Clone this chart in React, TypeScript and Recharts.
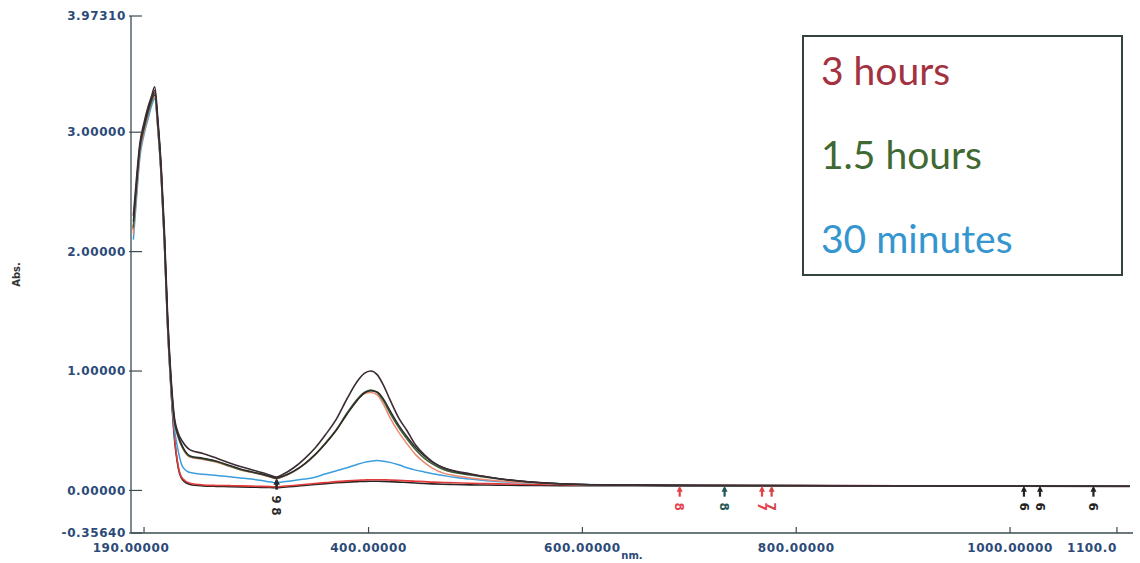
import { LineChart, Line, XAxis, YAxis, ReferenceDot } from 'recharts';

// wavelength grid (nm) and absorbance scans
const wavelengths = [
  180, 183, 186, 190, 194, 197, 200, 203, 206, 209, 212, 215, 218, 222, 226, 233, 245, 258, 270, 280,
  290, 300, 308, 314, 320, 330, 340, 350, 360, 370, 380, 390, 396, 402, 408, 414, 420, 428, 436, 444,
  452, 460, 470, 480, 495, 510, 530, 560, 600, 650, 700, 800, 900, 1000, 1112,
];

const scanA = [
  2.3, 2.62, 2.9, 3.08, 3.22, 3.3, 3.38, 3.1, 2.72, 2.18, 1.48, 0.98, 0.64, 0.48, 0.41, 0.34, 0.31, 0.27, 0.23, 0.2,
  0.175, 0.15, 0.128, 0.112, 0.135, 0.19, 0.265, 0.355, 0.47, 0.6, 0.77, 0.92, 0.98, 1.0, 0.97, 0.88, 0.76, 0.61, 0.5, 0.38,
  0.3, 0.24, 0.19, 0.165, 0.14, 0.115, 0.09, 0.065, 0.05, 0.045, 0.043, 0.04, 0.038, 0.037, 0.035,
];
const scanB = [
  2.2, 2.55, 2.85, 3.03, 3.17, 3.26, 3.32, 3.06, 2.68, 2.12, 1.42, 0.94, 0.61, 0.45, 0.36, 0.285, 0.265, 0.24, 0.205, 0.175,
  0.155, 0.135, 0.115, 0.1, 0.118, 0.16, 0.22, 0.3, 0.4, 0.51, 0.65, 0.77, 0.82, 0.84, 0.82, 0.75, 0.65, 0.53, 0.43, 0.34,
  0.27, 0.22, 0.175, 0.15, 0.13, 0.11, 0.088, 0.065, 0.05, 0.045, 0.042, 0.04, 0.038, 0.037, 0.035,
];
const scanC = [
  2.25, 2.58, 2.88, 3.05, 3.2, 3.28, 3.35, 3.08, 2.7, 2.15, 1.45, 0.96, 0.62, 0.46, 0.37, 0.29, 0.27, 0.245, 0.21, 0.18,
  0.158, 0.138, 0.118, 0.104, 0.12, 0.162, 0.222, 0.3, 0.395, 0.505, 0.64, 0.76, 0.815, 0.835, 0.825, 0.765, 0.67, 0.55, 0.45, 0.36,
  0.29, 0.235, 0.19, 0.16, 0.135, 0.115, 0.09, 0.066, 0.05, 0.045, 0.042, 0.04, 0.038, 0.037, 0.035,
];
const scanD = [
  2.15, 2.5, 2.82, 3.0, 3.15, 3.25, 3.3, 3.04, 2.66, 2.1, 1.4, 0.93, 0.6, 0.44, 0.355, 0.28, 0.26, 0.236, 0.2, 0.172,
  0.152, 0.132, 0.112, 0.098, 0.115, 0.158, 0.218, 0.298, 0.398, 0.51, 0.645, 0.765, 0.81, 0.82, 0.8, 0.72, 0.61, 0.49, 0.39, 0.3,
  0.235, 0.185, 0.145, 0.125, 0.105, 0.09, 0.075, 0.06, 0.048, 0.044, 0.042, 0.04, 0.038, 0.037, 0.035,
];
const scanE = [
  2.1, 2.45, 2.78, 2.98, 3.12, 3.22, 3.28, 3.02, 2.64, 2.08, 1.38, 0.9, 0.55, 0.33, 0.2, 0.15, 0.135, 0.125, 0.115, 0.105,
  0.095, 0.083, 0.072, 0.065, 0.072, 0.083, 0.095, 0.11, 0.14, 0.165, 0.19, 0.22, 0.235, 0.245, 0.25, 0.245, 0.235, 0.215, 0.19, 0.17,
  0.155, 0.14, 0.125, 0.11, 0.095, 0.082, 0.07, 0.06, 0.05, 0.045, 0.042, 0.04, 0.038, 0.037, 0.035,
];
const scanF = [
  2.2, 2.55, 2.86, 3.04, 3.18, 3.27, 3.33, 3.05, 2.66, 2.1, 1.4, 0.9, 0.5, 0.2, 0.1, 0.06, 0.046, 0.042, 0.04, 0.038,
  0.036, 0.034, 0.032, 0.03, 0.035, 0.042, 0.05, 0.058, 0.066, 0.074, 0.08, 0.085, 0.088, 0.09, 0.09, 0.089, 0.087, 0.084, 0.08, 0.077,
  0.074, 0.07, 0.067, 0.064, 0.06, 0.057, 0.054, 0.05, 0.047, 0.045, 0.043, 0.04, 0.038, 0.037, 0.035,
];
const scanG = [
  2.18, 2.52, 2.84, 3.02, 3.16, 3.25, 3.31, 3.03, 2.64, 2.08, 1.38, 0.88, 0.48, 0.19, 0.09, 0.05, 0.038, 0.034, 0.032, 0.03,
  0.028, 0.026, 0.024, 0.022, 0.027, 0.034, 0.042, 0.05, 0.057, 0.064, 0.07, 0.074, 0.076, 0.077, 0.077, 0.076, 0.074, 0.07, 0.066, 0.062,
  0.058, 0.055, 0.052, 0.05, 0.047, 0.045, 0.043, 0.041, 0.04, 0.039, 0.038, 0.037, 0.036, 0.035, 0.034,
];

const xTicks = [190, 400, 600, 800, 1000, 1100];
// the last label is printed cut short at the page edge
const xTickLabels = ['190.00000', '400.00000', '600.00000', '800.00000', '1000.00000', '1100.0'];
const yTicks = [-0.3564, 0, 1, 2, 3, 3.9731];
const rightTicks = [2, 3];
const topTicks = [190];

const legendLabels = ['3 hours', '1.5 hours', '30 minutes'];
const legendColors = ['#a3313f', '#3f6833', '#3596cf'];

// peak-pick markers printed by the instrument
const peakNm = [691, 733, 768, 777, 1013, 1028, 1078];
const peakLabels = ['8', '8', '7', '7', '6', '6', '6'];
const peakColors = ['#e8404a', '#1f5656', '#e8404a', '#d04444', '#222', '#222', '#222'];
const dipNm = [314, 314];
const dipLabels = ['9', '8'];

const data = wavelengths.map((nm, i) => ({
  nm,
  a: scanA[i],
  b: scanB[i],
  c: scanC[i],
  d: scanD[i],
  e: scanE[i],
  f: scanF[i],
  g: scanG[i],
}));

const axisColor = '#3d4b52';
const labelColor = '#2c4a78';
const tickFont = { fontFamily: 'DejaVu Sans', fontWeight: 700, fontSize: 12, letterSpacing: 0.6 };

const XTick = (props: any) => {
  const { x, y, index } = props;
  const last = index === xTicks.length - 1;
  const tx = index === 0 ? x - 13 : last ? x - 50 : x;
  return (
    <g>
      <line x1={x} x2={x} y1={y} y2={y - 6} stroke={axisColor} strokeWidth={1.2} />
      <text x={tx} y={y + 15} dy="0.35em" textAnchor={last ? 'start' : 'middle'} fill={labelColor} {...tickFont}>
        {xTickLabels[index]}
      </text>
    </g>
  );
};

const YTick = (props: any) => {
  const { x, y, payload } = props;
  return (
    <g>
      <line x1={x - 2} x2={x + 11} y1={y} y2={y} stroke={axisColor} strokeWidth={1.2} />
      <text x={x - 5} y={y} dy="0.35em" textAnchor="end" fill={labelColor} {...tickFont}>
        {payload.value.toFixed(5)}
      </text>
    </g>
  );
};

const TopTick = (props: any) => (
  <line x1={props.x} x2={props.x} y1={props.y} y2={props.y + 6} stroke={axisColor} strokeWidth={1.2} />
);

const RightTick = (props: any) => (
  <line x1={props.x} x2={props.x - 9} y1={props.y} y2={props.y} stroke={axisColor} strokeWidth={1.2} />
);

const PeakArrow = (props: any) => {
  const { cx, cy, color, label, row } = props;
  const ly = cy + 21 + row * 12;
  return (
    <g>
      <line x1={cx} x2={cx} y1={cy + 3} y2={cy + 11} stroke={color} strokeWidth={2.2} />
      <path d={`M${cx - 3},${cy + 6} L${cx},${cy} L${cx + 3},${cy + 6} Z`} fill={color} />
      <text
        transform={`translate(${cx},${ly}) rotate(90)`}
        textAnchor="middle"
        dy="0.35em"
        fill={color}
        fontFamily="DejaVu Sans"
        fontWeight={700}
        fontSize={12}
      >
        {label}
      </text>
    </g>
  );
};

export default function App() {
  return (
    <div style={{ position: 'absolute', left: 0, top: 0, width: 1140, height: 563, background: '#fff' }}>
      <LineChart width={1140} height={563} data={data} margin={{ top: 16, right: 7, bottom: 0, left: 0 }}>
        <XAxis
          dataKey="nm"
          type="number"
          domain={[177.8, 1115]}
          ticks={xTicks}
          tick={XTick}
          tickLine={false}
          tickSize={0}
          tickMargin={0}
          height={30}
          stroke={axisColor}
          strokeWidth={1.3}
          interval={0}
          allowDataOverflow
          label={(p: any) => (
            <text
              x={p.viewBox.x + p.viewBox.width / 2}
              y={p.viewBox.y + 26}
              textAnchor="middle"
              fill={labelColor}
              fontFamily="DejaVu Sans"
              fontWeight={700}
              fontSize={10}
            >
              nm.
            </text>
          )}
        />
        <XAxis
          xAxisId="top"
          orientation="top"
          dataKey="nm"
          type="number"
          domain={[177.8, 1115]}
          ticks={topTicks}
          tick={TopTick}
          tickLine={false}
          tickSize={0}
          tickMargin={0}
          height={0}
          stroke={axisColor}
          strokeWidth={1.3}
          allowDataOverflow
        />
        <YAxis
          type="number"
          domain={[-0.3564, 3.9731]}
          ticks={yTicks}
          tick={YTick}
          tickLine={false}
          tickSize={0}
          tickMargin={0}
          width={131}
          stroke={axisColor}
          strokeWidth={1.3}
          interval={0}
          allowDataOverflow
          label={(p: any) => (
            <text
              transform={`translate(20,${p.viewBox.y + p.viewBox.height / 2}) rotate(-90)`}
              textAnchor="middle"
              fill="#333"
              fontFamily="DejaVu Sans"
              fontWeight={700}
              fontSize={10}
            >
              Abs.
            </text>
          )}
        />
        <YAxis
          yAxisId="right"
          orientation="right"
          type="number"
          domain={[-0.3564, 3.9731]}
          ticks={rightTicks}
          tick={RightTick}
          tickLine={false}
          tickSize={0}
          tickMargin={0}
          width={0}
          stroke={axisColor}
          strokeWidth={1.3}
          allowDataOverflow
        />
        <Line dataKey="g" type="monotone" stroke="#262626" strokeWidth={1.6} dot={false} isAnimationActive={false} />
        <Line dataKey="f" type="monotone" stroke="#e23a3a" strokeWidth={1.6} dot={false} isAnimationActive={false} />
        <Line dataKey="e" type="monotone" stroke="#3b9ede" strokeWidth={1.5} dot={false} isAnimationActive={false} />
        <Line dataKey="d" type="monotone" stroke="#ec8a70" strokeWidth={1.5} dot={false} isAnimationActive={false} />
        <Line dataKey="b" type="monotone" stroke="#3d5e36" strokeWidth={1.6} dot={false} isAnimationActive={false} />
        <Line dataKey="c" type="monotone" stroke="#2b2b2b" strokeWidth={1.4} dot={false} isAnimationActive={false} />
        <Line dataKey="a" type="monotone" stroke="#3c2c34" strokeWidth={1.6} dot={false} isAnimationActive={false} />
        {peakNm.map((nm, i) => (
          <ReferenceDot
            key={`p${i}`}
            x={nm}
            y={0.04}
            shape={(p: any) => <PeakArrow {...p} color={peakColors[i]} label={peakLabels[i]} row={0} />}
          />
        ))}
        {dipNm.map((nm, i) => (
          <ReferenceDot
            key={`d${i}`}
            x={nm}
            y={0.1}
            shape={(p: any) => <PeakArrow {...p} color="#2a2a2a" label={dipLabels[i]} row={i} />}
          />
        ))}
      </LineChart>
      <svg width={321} height={241} style={{ position: 'absolute', left: 802, top: 35 }}>
        <rect x={1} y={1} width={319} height={239} fill="#fff" stroke="#34423c" strokeWidth={2} />
        {legendLabels.map((t, i) => (
          <text key={t} x={19} y={50 + i * 84} fill={legendColors[i]} fontFamily="Lato" fontSize={39}>
            {t}
          </text>
        ))}
      </svg>
    </div>
  );
}
